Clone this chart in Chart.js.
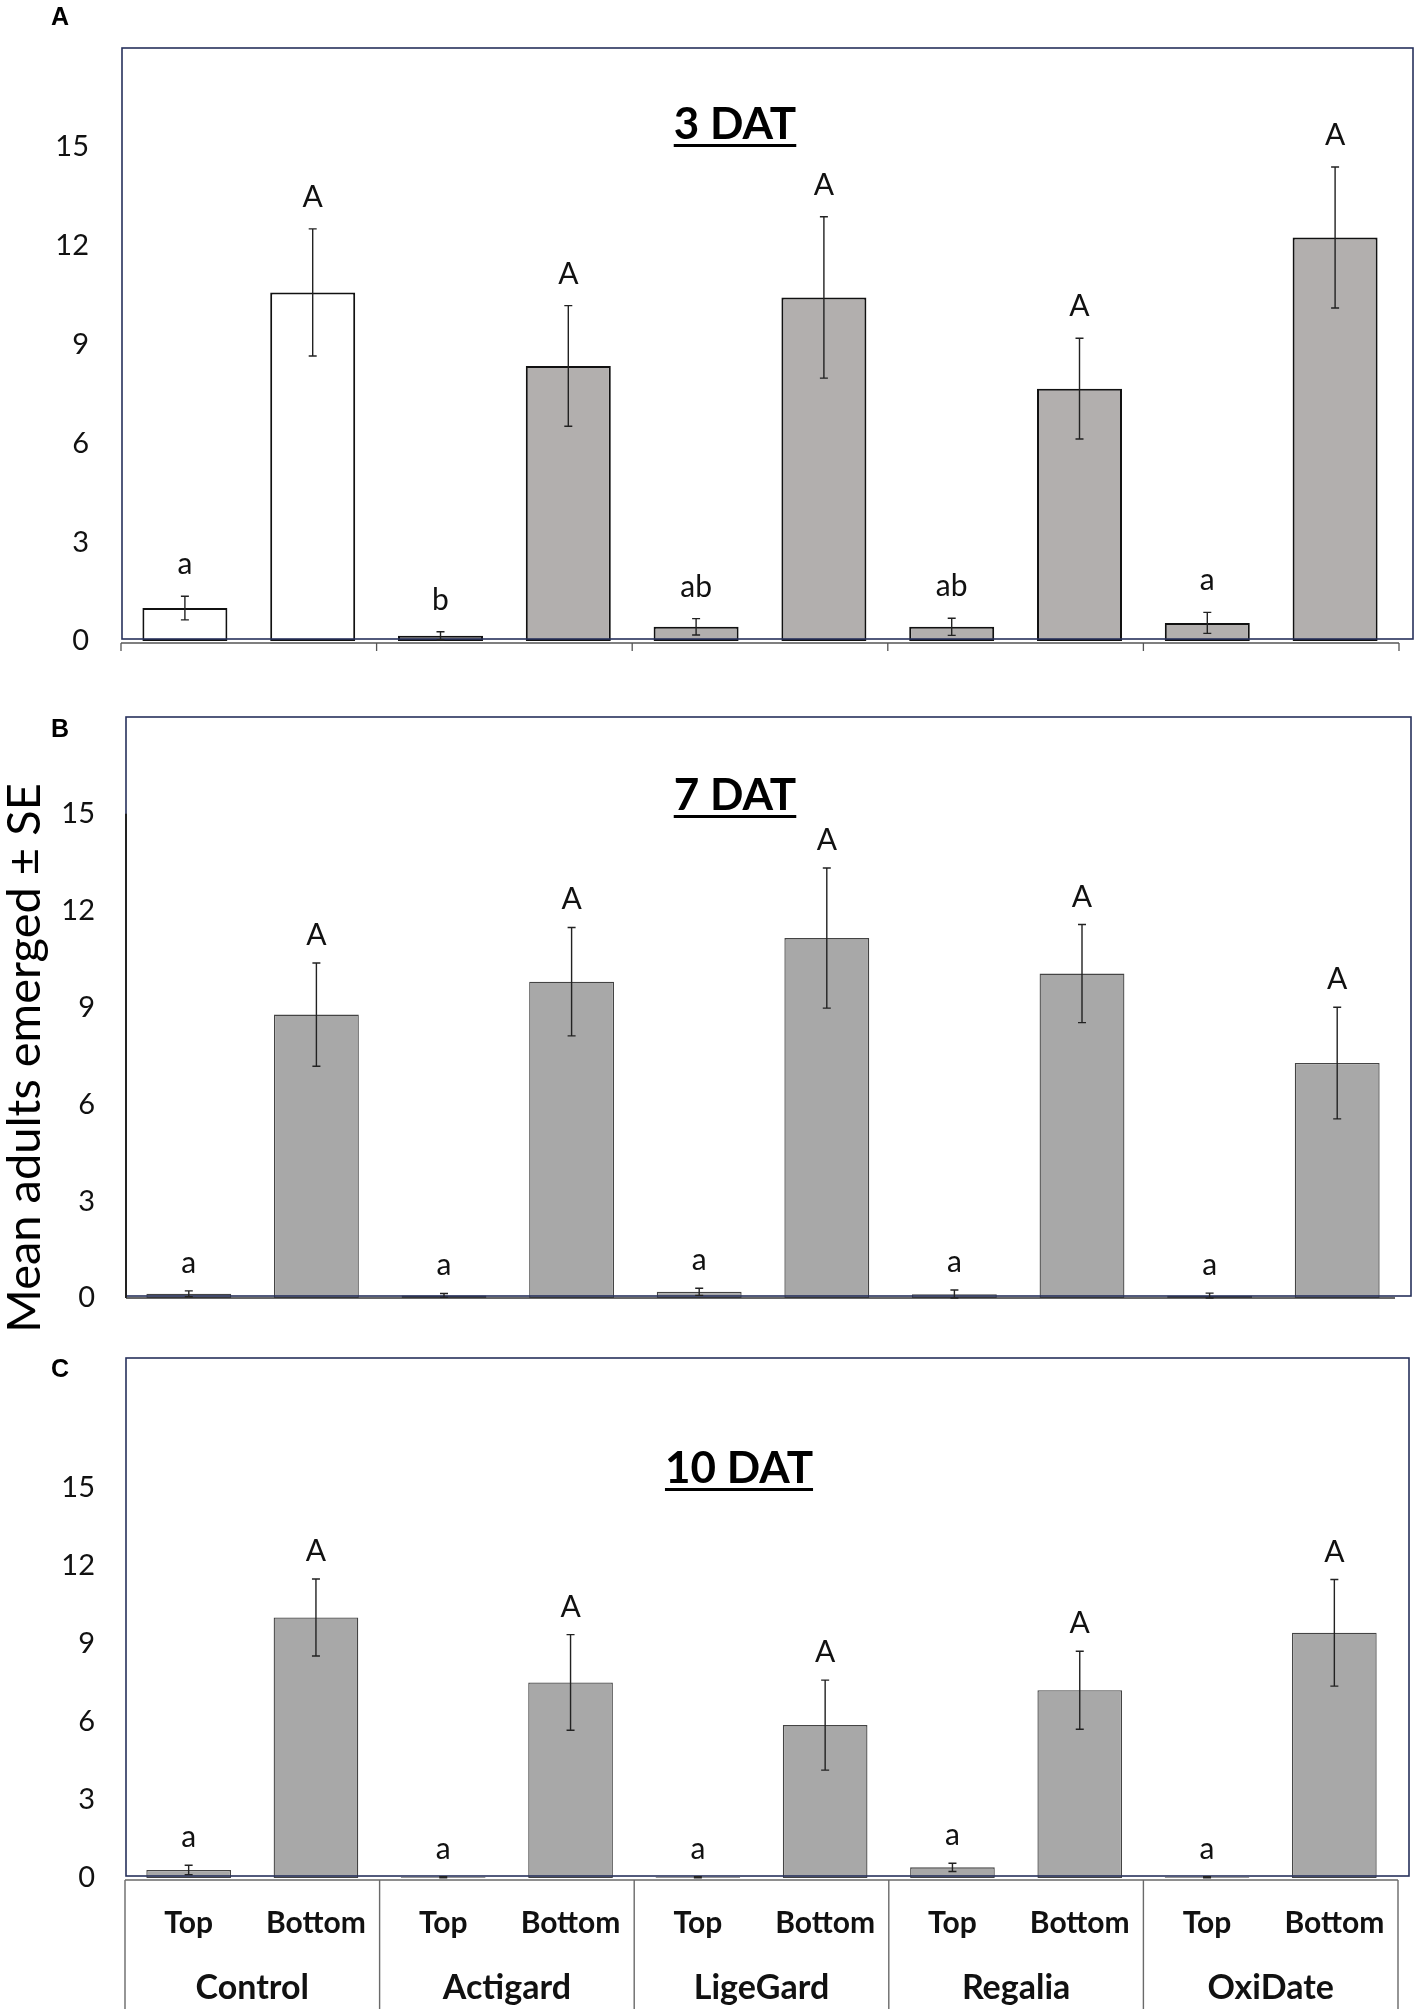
<!DOCTYPE html>
<html>
<head>
<meta charset="utf-8">
<script src="https://cdn.jsdelivr.net/npm/chart.js@4.4.1/dist/chart.umd.min.js"></script>
<style>
html, body { margin: 0; padding: 0; background: #fff; }
body { width: 1417px; height: 2009px; position: relative; overflow: hidden; }
canvas { position: absolute; left: 0; }
</style>
</head>
<body>
<canvas id="chartA" width="1417" height="700" style="top:0px"></canvas>
<canvas id="chartB" width="1417" height="640" style="top:700px"></canvas>
<canvas id="chartC" width="1417" height="669" style="top:1340px"></canvas>
<script>
// data
const positions = ['Top', 'Bottom', 'Top', 'Bottom', 'Top', 'Bottom', 'Top', 'Bottom', 'Top', 'Bottom'];
const treatments = ['Control', 'Actigard', 'LigeGard', 'Regalia', 'OxiDate'];
const yTicks = [0, 3, 6, 9, 12, 15];

// 3 DAT
const means3 = [1.0, 10.58, 0.16, 8.35, 0.43, 10.43, 0.43, 7.66, 0.55, 12.25];
const se3 = [0.36, 1.93, 0.12, 1.83, 0.25, 2.45, 0.26, 1.53, 0.32, 2.14];
const letters3 = ['a', 'A', 'b', 'A', 'ab', 'A', 'ab', 'A', 'a', 'A'];

// 7 DAT
const means7 = [0.13, 8.78, 0.08, 9.8, 0.19, 11.15, 0.12, 10.05, 0.07, 7.28];
const se7 = [0.09, 1.6, 0.06, 1.68, 0.11, 2.17, 0.13, 1.52, 0.08, 1.73];
const letters7 = ['a', 'A', 'a', 'A', 'a', 'A', 'a', 'A', 'a', 'A'];

// 10 DAT
const means10 = [0.31, 10.02, 0.03, 7.52, 0.03, 5.88, 0.41, 7.22, 0.03, 9.43];
const se10 = [0.18, 1.48, 0.02, 1.84, 0.02, 1.73, 0.16, 1.5, 0.02, 2.05];
const letters10 = ['a', 'A', 'a', 'A', 'a', 'A', 'a', 'A', 'a', 'A'];

const decor = {
  id: 'decor',
  afterDatasetsDraw(chart, args, o) {
    const { ctx, chartArea: ca, scales: { x, y } } = chart;
    const slot = x.getPixelForValue(1) - x.getPixelForValue(0);
    const edges = [];
    for (let i = 0; i <= positions.length; i += 2) {
      edges.push(x.getPixelForValue(Math.min(i, positions.length - 1)) + (i < positions.length ? -slot / 2 : slot / 2));
    }
    ctx.save();

    // frame round the plot
    ctx.strokeStyle = '#27315c';
    ctx.lineWidth = 1.6;
    ctx.strokeRect(ca.left + 1, ca.top, o.frameRight - ca.left - 1, ca.bottom - 2 - ca.top);

    if (o.style === 'A') {
      ctx.strokeStyle = '#555';
      ctx.lineWidth = 1.3;
      ctx.beginPath();
      ctx.moveTo(ca.left, ca.bottom + 2);
      ctx.lineTo(ca.right, ca.bottom + 2);
      edges.forEach(e => { ctx.moveTo(e, ca.bottom + 2); ctx.lineTo(e, ca.bottom + 10); });
      ctx.stroke();
    }
    if (o.style === 'B') {
      ctx.strokeStyle = '#222';
      ctx.lineWidth = 2;
      ctx.beginPath();
      ctx.moveTo(ca.left + 1, y.getPixelForValue(15));
      ctx.lineTo(ca.left + 1, ca.bottom);
      ctx.stroke();
      ctx.strokeStyle = '#333';
      ctx.lineWidth = 1.3;
      ctx.beginPath();
      ctx.moveTo(ca.left + 1, ca.bottom);
      ctx.lineTo(ca.right - 6, ca.bottom);
      ctx.stroke();
    }
    if (o.style === 'C') {
      ctx.strokeStyle = '#6a6a6a';
      ctx.lineWidth = 1.4;
      ctx.beginPath();
      ctx.moveTo(ca.left, ca.bottom + 2);
      ctx.lineTo(ca.right, ca.bottom + 2);
      edges.forEach(e => { ctx.moveTo(e, ca.bottom + 2); ctx.lineTo(e, chart.height); });
      ctx.stroke();
    }

    // error bars and letters
    const meta = chart.getDatasetMeta(0);
    ctx.strokeStyle = '#222';
    ctx.lineWidth = 1.4;
    ctx.fillStyle = '#111';
    ctx.font = '30px Lato';
    ctx.textAlign = 'center';
    ctx.textBaseline = 'alphabetic';
    meta.data.forEach((bar, i) => {
      const m = o.means[i], s = o.se[i];
      const yt = y.getPixelForValue(m + s);
      const yb = y.getPixelForValue(Math.max(m - s, 0));
      ctx.beginPath();
      ctx.moveTo(bar.x, yt); ctx.lineTo(bar.x, yb);
      ctx.moveTo(bar.x - 4, yt); ctx.lineTo(bar.x + 4, yt);
      ctx.moveTo(bar.x - 4, yb); ctx.lineTo(bar.x + 4, yb);
      ctx.stroke();
      ctx.fillText(o.letters[i], bar.x, yt - o.letterGap);
    });

    // panel title
    ctx.font = 'bold 44px Lato';
    ctx.fillStyle = '#000';
    ctx.fillText(o.title, o.titleX, o.titleY);
    const w = ctx.measureText(o.title).width;
    ctx.fillRect(o.titleX - w / 2, o.titleY + 5, w, 3);

    // panel letter
    ctx.font = 'bold 25px "Liberation Sans"';
    ctx.textAlign = 'left';
    ctx.fillText(o.panel, 51, o.panelY);

    if (o.yTitle) {
      ctx.font = '47px Lato';
      ctx.textAlign = 'center';
      ctx.translate(40, o.yTitleY);
      ctx.rotate(-Math.PI / 2);
      ctx.fillText(o.yTitle, 0, 0);
    }
    ctx.restore();
  }
};

function makePanel(id, cfg) {
  const scales = {
    x: {
      type: 'category',
      grid: { display: false, drawTicks: false },
      border: { display: false },
      ticks: {
        display: cfg.style === 'C',
        autoSkip: false, maxRotation: 0,
        color: '#111',
        padding: 27,
        font: { family: 'Lato', weight: 'bold', size: 30 }
      },
      afterFit(s) { s.height = cfg.xHeight; }
    },
    y: {
      min: 0, max: cfg.yMax,
      grid: { display: false, drawTicks: false },
      border: { display: false },
      afterBuildTicks(s) { s.ticks = yTicks.map(v => ({ value: v })); },
      ticks: { color: '#111', padding: cfg.yPad, font: { family: 'Lato', size: 29 } },
      afterFit(s) {
        s.width = cfg.left;
        // the tick labels stay inside the plot height, no extra room needed
        s.paddingTop = 0;
        s.paddingBottom = 0;
      }
    }
  };
  if (cfg.style === 'C') {
    scales.x2 = {
      type: 'category',
      labels: treatments,
      offset: true,
      position: 'bottom',
      grid: { display: false, drawTicks: false },
      border: { display: false },
      ticks: { color: '#111', padding: 14, maxRotation: 0, font: { family: 'Lato', weight: 'bold', size: 34 } },
      afterFit(s) { s.height = cfg.x2Height; }
    };
  }
  return new Chart(document.getElementById(id), {
    type: 'bar',
    data: {
      labels: positions,
      datasets: [{
        data: cfg.means,
        backgroundColor: cfg.colors,
        borderColor: cfg.border,
        borderWidth: cfg.borderWidth,
        borderSkipped: false,
        categoryPercentage: 1,
        barPercentage: 0.665
      }]
    },
    options: {
      responsive: false,
      animation: false,
      devicePixelRatio: 1,
      layout: { padding: { left: 0, right: 1417 - cfg.right, top: cfg.top, bottom: 0 } },
      plugins: { legend: { display: false }, tooltip: { enabled: false }, decor: cfg },
      scales: scales
    },
    plugins: [decor]
  });
}

const grayA = '#b2afae';
const grayBC = '#a8a8a8';

makePanel('chartA', {
  style: 'A', panel: 'A', panelY: 25, title: '3 DAT', titleX: 735, titleY: 139,
  means: means3, se: se3, letters: letters3, letterGap: 22,
  colors: ['#ffffff', '#ffffff', grayA, grayA, grayA, grayA, grayA, grayA, grayA, grayA],
  border: '#111', borderWidth: 2,
  left: 121, right: 1399, top: 48, xHeight: 59, yMax: 18, yPad: 32, frameRight: 1413
});

makePanel('chartB', {
  style: 'B', panel: 'B', panelY: 37, title: '7 DAT', titleX: 735, titleY: 110,
  yTitle: 'Mean adults emerged \u00b1 SE', yTitleY: 358,
  means: means7, se: se7, letters: letters7, letterGap: 18,
  colors: grayBC, border: '#444', borderWidth: 1.3,
  left: 125, right: 1401, top: 17, xHeight: 42, yMax: 18, yPad: 30, frameRight: 1411
});

makePanel('chartC', {
  style: 'C', panel: 'C', panelY: 37, title: '10 DAT', titleX: 739, titleY: 143,
  means: means10, se: se10, letters: letters10, letterGap: 18,
  colors: grayBC, border: '#444', borderWidth: 1.3,
  left: 125, right: 1398, top: 18, xHeight: 76, x2Height: 55, yMax: 20, yPad: 30, frameRight: 1409
});
</script>
</body>
</html>
